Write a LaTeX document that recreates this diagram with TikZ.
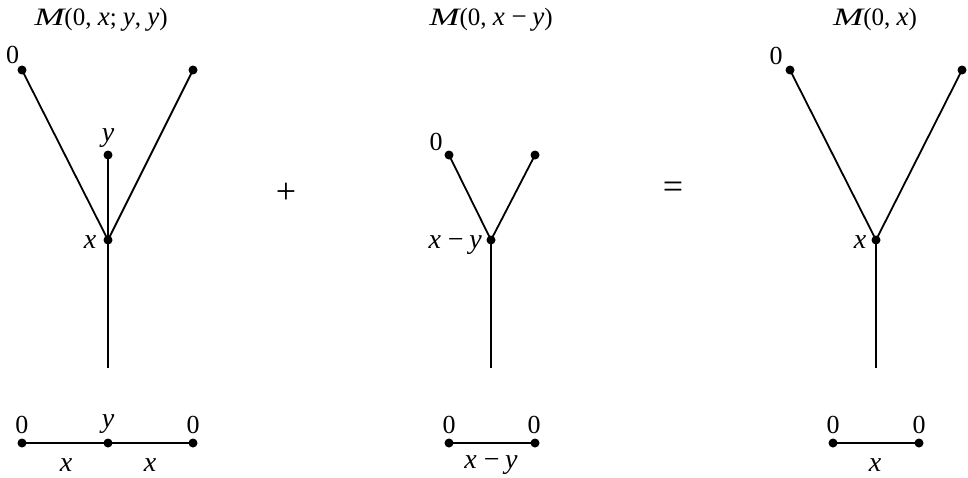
\documentclass[tikz,border=0pt]{standalone}
\usepackage{fontspec}
\usepackage{graphicx}
\setmainfont{Liberation Serif}
\newcommand{\vx}{{\fontsize{28}{30}\selectfont\itshape x}}
\newcommand{\vy}{{\fontsize{28}{30}\selectfont\itshape y}}
\newcommand{\tx}{{\fontsize{27}{30}\selectfont\itshape x}}
\newcommand{\ty}{{\fontsize{27}{30}\selectfont\itshape y}}
\newcommand{\tM}{\scalebox{1.45}[1]{\itshape M}}
\newcommand{\mns}{{\fontsize{28}{30}\selectfont\hspace{0.25em}−\hspace{0.2em}}}
\newcommand{\tmns}{{\fontsize{27}{30}\selectfont\hspace{0.25em}−\hspace{0.2em}}}
\begin{document}
\begin{tikzpicture}[x=1pt,y=-1pt,
  dot/.style={circle,fill=black,inner sep=0pt,minimum size=9pt},
  edge/.style={line width=1.8pt},
  lbl/.style={inner sep=0pt,font=\fontsize{26}{28}\selectfont,anchor=base},
  ttl/.style={inner sep=0pt,font=\fontsize{25}{28}\selectfont,anchor=base},
  op/.style={inner sep=0pt,font=\fontsize{36}{40}\selectfont}]
\useasboundingbox (0,0) rectangle (968,477);
% ---------- diagram 1
\node[ttl] (t1) at (101,25) {\tM(0, \tx; \ty, \ty)};
\node[dot] (a1) at (22,70) {};
\node[dot] (b1) at (193,70) {};
\node[dot] (c1) at (108,155) {};
\node[dot] (j1) at (108,240) {};
\coordinate (s1) at (108,368);
\draw[edge] (a1.center) -- (j1.center) -- (b1.center);
\draw[edge] (c1.center) -- (j1.center) -- (s1);
\node[lbl] (la1) at (12.5,63) {0};
\node[lbl] (lc1) at (108,141) {\vy};
\node[lbl] (lj1) at (90,248) {\vx};
\node[dot] (p1) at (22,443) {};
\node[dot] (q1) at (108,443) {};
\node[dot] (r1) at (193,443) {};
\draw[edge] (p1.center) -- (q1.center) -- (r1.center);
\node[lbl] (lp1) at (22,433) {0};
\node[lbl] (lq1) at (108,427) {\vy};
\node[lbl] (lr1) at (193,433) {0};
\node[lbl] (lpq1) at (66,471) {\vx};
\node[lbl] (lqr1) at (150,471) {\vx};
% ---------- operators
\node[op] (plus) at (286,193) {+};
\node[op] (eq) at (673,190) {=};
% ---------- diagram 2
\node[ttl] (t2) at (491,25) {\tM(0, \tx\tmns\ty)};
\node[dot] (a2) at (449,155) {};
\node[dot] (b2) at (535,155) {};
\node[dot] (j2) at (491,240) {};
\coordinate (s2) at (491,368);
\draw[edge] (a2.center) -- (j2.center) -- (b2.center);
\draw[edge] (j2.center) -- (s2);
\node[lbl] (la2) at (436,150) {0};
\node[lbl,anchor=base east] (lj2) at (482,248) {\vx\mns\vy};
\node[dot] (p2) at (449,443) {};
\node[dot] (q2) at (535,443) {};
\draw[edge] (p2.center) -- (q2.center);
\node[lbl] (lp2) at (449,433) {0};
\node[lbl] (lq2) at (534,433) {0};
\node[lbl] (lpq2) at (491,468) {\vx\mns\vy};
% ---------- diagram 3
\node[ttl] (t3) at (875,25) {\tM(0, \tx)};
\node[dot] (a3) at (790,70) {};
\node[dot] (b3) at (962,70) {};
\node[dot] (j3) at (876,240) {};
\coordinate (s3) at (876,368);
\draw[edge] (a3.center) -- (j3.center) -- (b3.center);
\draw[edge] (j3.center) -- (s3);
\node[lbl] (la3) at (776,64) {0};
\node[lbl] (lj3) at (860,248) {\vx};
\node[dot] (p3) at (833,443) {};
\node[dot] (q3) at (919,443) {};
\draw[edge] (p3.center) -- (q3.center);
\node[lbl] (lp3) at (833,433) {0};
\node[lbl] (lq3) at (919,433) {0};
\node[lbl] (lpq3) at (875,471) {\vx};
\end{tikzpicture}
\end{document}
